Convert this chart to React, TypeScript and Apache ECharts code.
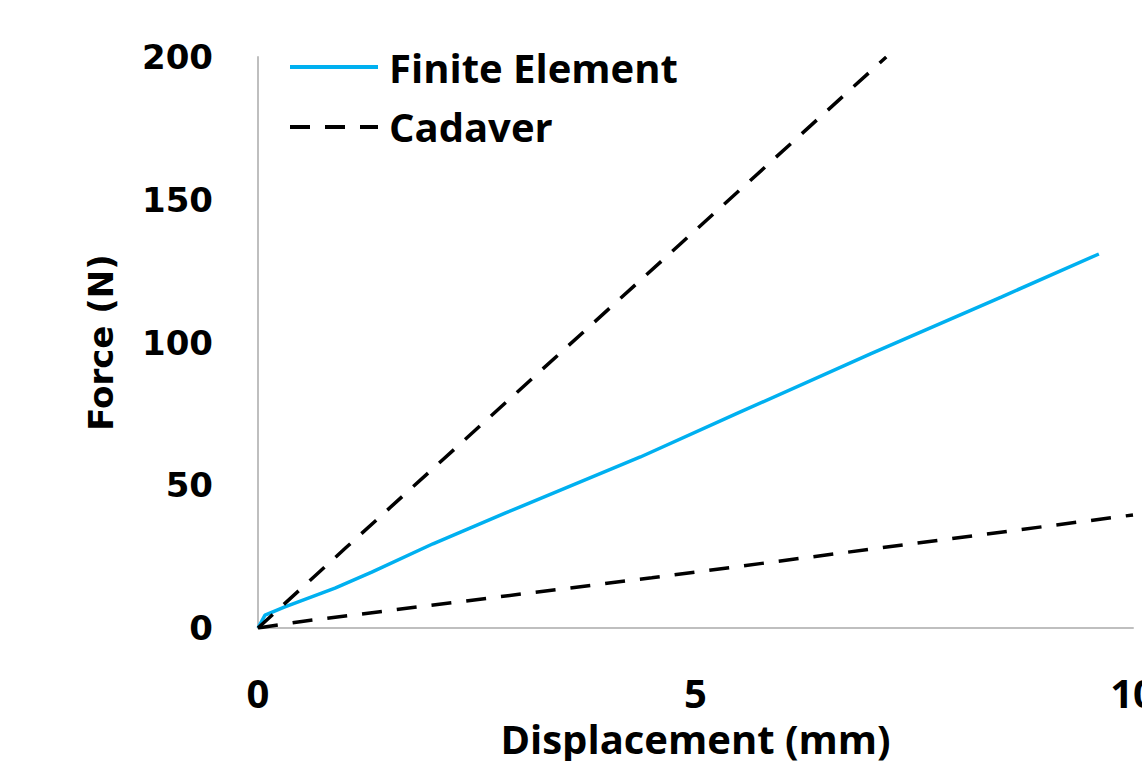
import React, { useEffect, useRef } from "react";
import * as echarts from "echarts";

const xTicks = [0, 5, 10];
const yTicks = [0, 50, 100, 150, 200];
const legendNames = ["Finite Element", "Cadaver"];

const finiteElement: [number, number][] = [
  [0, 0],
  [0.08, 4.5],
  [0.3, 7.3],
  [0.88, 14],
  [1.3, 19.6],
  [2.0, 29.5],
  [2.83, 40.3],
  [4.37, 59.9],
  [5.5, 75.5],
  [7.0, 96],
  [8.5, 116],
  [9.61, 131],
];

const cadaverUpper: [number, number][] = [
  [0, 0],
  [1.0, 28],
  [7.18, 200],
];

const cadaverLower: [number, number][] = [
  [0, 0],
  [0.5, 2.3],
  [4.5, 17.6],
  [10.0, 39.6],
];

export default function App() {
  const ref = useRef<HTMLDivElement>(null);
  useEffect(() => {
    if (!ref.current) return;
    const chart = echarts.init(ref.current, undefined, { renderer: "svg" });
    const dashArr = [20, 15];
    const legendFont = {
      fontFamily: "Open Sans",
      fontWeight: "bold",
      fontSize: 40,
      fill: "#000000",
    };
    chart.setOption({
      animation: false,
      backgroundColor: "#ffffff",
      grid: { left: 258, right: 9, top: 57, bottom: 133, outerBoundsMode: "none", containLabel: false },
      graphic: [
        {
          type: "line",
          shape: { x1: 290, y1: 67, x2: 378, y2: 67 },
          style: { stroke: "#00B0F0", lineWidth: 4 },
        },
        {
          type: "text",
          x: 389,
          y: 67,
          style: { ...legendFont, text: legendNames[0], verticalAlign: "middle", align: "left" },
        },
        {
          type: "line",
          shape: { x1: 290, y1: 127, x2: 378, y2: 127 },
          style: { stroke: "#000000", lineWidth: 4, lineDash: dashArr },
        },
        {
          type: "text",
          x: 389,
          y: 126,
          style: { ...legendFont, text: legendNames[1], verticalAlign: "middle", align: "left" },
        },
      ],
      xAxis: {
        type: "value",
        min: xTicks[0],
        max: xTicks[xTicks.length - 1],
        interval: 5,
        splitLine: { show: false },
        axisTick: { show: false },
        axisLine: { lineStyle: { color: "#BFBFBF", width: 2 } },
        axisLabel: {
          fontFamily: "Open Sans",
          fontWeight: "bold",
          fontSize: 40,
          lineHeight: 34,
          color: "#000000",
          margin: 47,
          showMaxLabel: true,
        },
        name: "Displacement (mm)",
        nameLocation: "middle",
        nameGap: 93,
        nameTextStyle: {
          fontFamily: "Open Sans",
          fontWeight: "bold",
          fontSize: 40,
          lineHeight: 34,
          color: "#000000",
        },
      },
      yAxis: {
        type: "value",
        min: yTicks[0],
        max: yTicks[yTicks.length - 1],
        interval: 50,
        splitLine: { show: false },
        axisTick: { show: false },
        axisLine: { show: true, lineStyle: { color: "#BFBFBF", width: 2 } },
        axisLabel: {
          fontFamily: "DejaVu Sans",
          fontWeight: "bold",
          fontSize: 34,
          color: "#000000",
          margin: 45,
        },
        name: "Force (N)",
        nameLocation: "middle",
        nameGap: 140,
        nameTextStyle: {
          fontFamily: "DejaVu Sans",
          fontWeight: "bold",
          fontSize: 34,
          color: "#000000",
        },
      },
      series: [
        {
          name: legendNames[0],
          type: "line",
          data: finiteElement,
          symbol: "none",
          lineStyle: { color: "#00B0F0", width: 3.5 },
          z: 3,
        },
        {
          name: legendNames[1],
          type: "line",
          data: cadaverUpper,
          symbol: "none",
          lineStyle: { type: dashArr, color: "#000000", width: 3.5 },
        },
        {
          name: legendNames[1],
          type: "line",
          data: cadaverLower,
          symbol: "none",
          lineStyle: { type: dashArr, color: "#000000", width: 3.5 },
        },
      ],
    });
    return () => chart.dispose();
  }, []);
  return (
    <div
      ref={ref}
      style={{ position: "absolute", left: 0, top: 0, width: 1142, height: 761 }}
    />
  );
}
